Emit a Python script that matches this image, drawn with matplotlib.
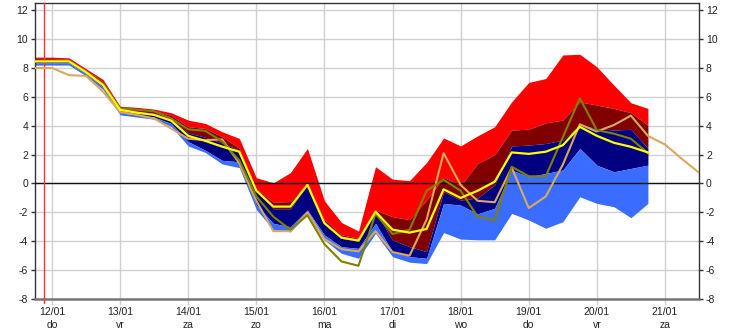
import matplotlib
matplotlib.use("Agg")
import matplotlib.pyplot as plt
import numpy as np

# 6-hourly steps; time in days since 12/01 00:00
t_start = -0.25
step = 0.25

date_labels = ["12/01", "13/01", "14/01", "15/01", "16/01", "17/01", "18/01", "19/01", "20/01", "21/01"]
day_labels = ["do", "vr", "za", "zo", "ma", "di", "wo", "do", "vr", "za"]

ens_max = [8.75, 8.75, 8.7, 7.95, 7.2, 5.35, 5.27, 5.15, 4.9, 4.39, 4.16, 3.58, 3.12,
           0.4, 0.05, 0.75, 2.43, -1.2, -2.7, -3.3, 1.16, 0.3, 0.2, 1.45, 3.15, 2.6,
           3.3, 3.93, 5.66, 7.0, 7.27, 8.9, 8.95, 8.08, 6.81, 5.59, 5.2]
ens_q_high = [8.65, 8.65, 8.6, 7.85, 7.05, 5.25, 5.15, 5.05, 4.7, 3.93, 3.81, 3.23, 2.43,
              -0.4, -1.3, -1.25, 0.0, -2.5, -3.55, -3.8, -1.85, -2.3, -2.5, -1.15, 0.42, -0.15,
              1.39, 2.0, 3.7, 3.76, 4.2, 4.39, 5.65, 5.43, 5.2, 4.9, 4.04]
ens_q_mid = [8.5, 8.5, 8.5, 7.75, 6.9, 5.15, 5.0, 4.85, 4.45, 3.5, 3.2, 2.8, 2.3,
             -0.5, -1.75, -1.75, -0.05, -2.8, -3.8, -4.0, -1.95, -3.92, -4.38, -4.72, -0.57, -1.15,
             -1.0, -0.1, 2.6, 2.66, 2.77, 3.0, 4.04, 3.81, 3.7, 3.75, 2.43]
ens_q_low = [8.35, 8.35, 8.35, 7.6, 6.65, 4.9, 4.75, 4.6, 4.15, 2.9, 2.3, 1.6, 1.5,
             -1.5, -2.76, -3.0, -1.84, -3.57, -4.38, -4.49, -2.76, -4.72, -5.07, -5.18, -1.38, -1.5,
             -2.1, -1.72, 0.93, 0.46, 0.7, 0.93, 2.43, 1.27, 0.81, 1.04, 1.27]
ens_min = [8.2, 8.2, 8.2, 7.45, 6.5, 4.75, 4.6, 4.45, 3.95, 2.6, 2.15, 1.35, 1.1,
           -1.8, -3.2, -3.35, -2.1, -3.92, -4.84, -5.18, -3.45, -5.07, -5.45, -5.55, -3.4, -3.85,
           -3.9, -3.9, -2.07, -2.53, -3.1, -2.65, -0.92, -1.38, -1.61, -2.37, -1.38]
ens_mean = [8.45, 8.45, 8.45, 7.7, 6.8, 5.1, 4.9, 4.75, 4.35, 3.3, 2.95, 2.55, 2.2,
            -0.5, -1.6, -1.6, -0.1, -2.75, -3.75, -3.95, -1.95, -3.2, -3.4, -3.15, -0.4, -1.0,
            -0.5, 0.12, 2.15, 2.05, 2.2, 2.65, 3.93, 3.3, 2.82, 2.54, 2.15]
control_run = [8.5, 8.5, 8.5, 7.75, 6.9, 5.2, 5.1, 5.0, 4.5, 3.75, 3.65, 2.9, 1.6,
               -0.9, -2.3, -3.2, -2.2, -4.2, -5.4, -5.7, -2.1, -3.5, -3.2, -0.5, 0.25, -0.5,
               -2.3, -2.55, 1.16, 0.5, 0.5, 3.2, 5.9, 3.7, 3.45, 3.1, 2.1]
oper_run = [8.0, 8.0, 7.5, 7.45, 6.35, 4.95, 4.75, 4.5, 3.8, 3.1, 3.0, 3.05, 1.4,
            -1.2, -3.3, -3.3, -2.0, -3.85, -4.55, -4.7, -3.3, -4.75, -5.0, -2.5, 2.1, -0.1,
            -1.2, -1.3, 1.1, -1.7, -0.9, 1.3, 4.1, 3.6, 4.05, 4.7, 3.3, 2.7, 1.7, 0.75]
now_day = -0.125

t_ens = t_start + step * np.arange(len(ens_max))
t_oper = t_start + step * np.arange(len(oper_run))

fig = plt.figure(figsize=(7.32, 3.36), dpi=100)
ax = fig.add_axes([35/732, 1-299/336, (699-35)/732, (299-3)/336])

ax.set_xlim(t_start, 9.5)
ax.set_ylim(-8, 12.5)
ax.set_axisbelow(True)
ax.grid(True, color="#d0d0d0", linewidth=1.0)

ax.fill_between(t_ens, ens_q_high, ens_max, color="#ff0000", linewidth=0)
ax.fill_between(t_ens, ens_q_mid, ens_q_high, color="#800000", linewidth=0)
ax.fill_between(t_ens, ens_q_low, ens_q_mid, color="#000080", linewidth=0)
ax.fill_between(t_ens, ens_min, ens_q_low, color="#3a6cff", linewidth=0)

ax.axhline(0, color="#111111", linewidth=1.0, zorder=3)
ax.axvline(now_day, ymin=-0.015, ymax=1, color="#ff3030", linewidth=1.0, zorder=3, clip_on=False)

ax.plot(t_oper, oper_run, color="#d8a95e", linewidth=1.5, zorder=4)
ax.plot(t_ens, control_run, color="#808000", linewidth=1.5, zorder=4)
ax.plot(t_ens, ens_mean, color="#ffff00", linewidth=1.6, zorder=5)

ax.set_xticks(np.arange(len(date_labels)))
ax.set_xticklabels([f"{d}\n{w}" for d, w in zip(date_labels, day_labels)],
                   fontsize=7.5, color="#222222", linespacing=1.35,
                   family=["Liberation Sans", "DejaVu Sans"])
ax.tick_params(axis="x", length=4, width=1, color="#d0d0d0", pad=2)

yt = np.arange(-8, 13, 2)
ax.set_yticks(yt)
ax.set_yticklabels([str(v) for v in yt], fontsize=7.5, color="#222222",
                   family=["Liberation Sans", "DejaVu Sans"])
ax.tick_params(axis="y", length=3, width=1, color="#333333", pad=2,
               left=True, right=True, labelleft=True, labelright=True)

for s in ["left", "top", "right"]:
    ax.spines[s].set_color("#333333")
    ax.spines[s].set_linewidth(1.0)
ax.spines["bottom"].set_color("#777777")
ax.spines["bottom"].set_linewidth(1.8)

fig.savefig("out.png", dpi=100)
